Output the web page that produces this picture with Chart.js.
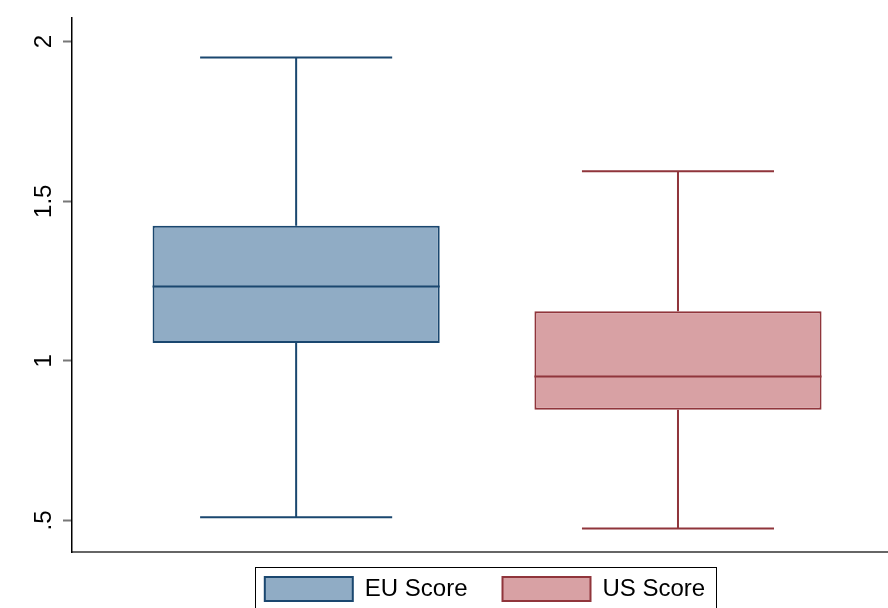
<!DOCTYPE html>
<html lang="en">
<head>
  <meta charset="UTF-8"/>
  <title>EU vs US score box plot</title>
  <script src="https://cdn.jsdelivr.net/npm/chart.js@4/dist/chart.umd.min.js"></script>
  <style>
    *{box-sizing:border-box;margin:0;padding:0}
    body{background:#fff;width:888px;height:608px;overflow:hidden}
    .wrap{position:relative;width:888px;height:608px}
  </style>
</head>
<body>
<div class="wrap"><canvas id="box"></canvas></div>

<script>
// data
const GROUPS = ['EU Score', 'US Score'];
const X_POS  = [1, 2];
const LOWER  = [0.510, 0.475];
const Q1     = [1.056, 0.847];
const MEDIAN = [1.233, 0.951];
const Q3     = [1.423, 1.155];
const UPPER  = [1.950, 1.594];

const Y_TICKS       = [0.5, 1, 1.5, 2];
const Y_TICK_LABELS = ['.5', '1', '1.5', '2'];

// look
const FILLS   = ['#90acc5', '#d8a1a4'];
const BORDERS = ['#1a476f', '#90353b'];
const BOX_W = 0.752, CAP_W = 0.503;   // in x units (gap between groups = 1)
const FONT = "'Liberation Sans', Arial, sans-serif";

const boxPlot = {
  id: 'boxPlot',
  afterLayout(chart) {
    const lg = chart.legend;
    lg.left = chart.chartArea.left + 10;
    lg.top  = chart.chartArea.bottom - 10;
  },
  beforeDatasetsDraw(chart) {
    const {ctx, scales: {x, y}} = chart;
    ctx.save();
    ctx.lineWidth = 2;
    X_POS.forEach((p, i) => {
      const px = x.getPixelForValue(p);
      const l = x.getPixelForValue(p - CAP_W / 2), r = x.getPixelForValue(p + CAP_W / 2);
      const yU = y.getPixelForValue(UPPER[i]), yL = y.getPixelForValue(LOWER[i]);
      ctx.strokeStyle = BORDERS[i];
      ctx.beginPath();
      ctx.moveTo(px, yU); ctx.lineTo(px, y.getPixelForValue(Q3[i]));
      ctx.moveTo(px, y.getPixelForValue(Q1[i])); ctx.lineTo(px, yL);
      ctx.moveTo(l, yU); ctx.lineTo(r, yU);
      ctx.moveTo(l, yL); ctx.lineTo(r, yL);
      ctx.stroke();
    });
    ctx.restore();
  },
  afterDatasetsDraw(chart) {
    const {ctx, scales: {x, y}} = chart;
    ctx.save();
    ctx.lineWidth = 2;
    X_POS.forEach((p, i) => {
      const ym = y.getPixelForValue(MEDIAN[i]);
      ctx.strokeStyle = BORDERS[i];
      ctx.beginPath();
      ctx.moveTo(x.getPixelForValue(p - BOX_W / 2), ym);
      ctx.lineTo(x.getPixelForValue(p + BOX_W / 2), ym);
      ctx.stroke();
    });
    ctx.restore();
  },
  afterDraw(chart) {
    // frame round the legend
    const hb = chart.legend.legendHitBoxes;
    if (!hb || !hb.length) return;
    const a = hb[0], b = hb[hb.length - 1];
    const {ctx} = chart;
    ctx.save();
    ctx.strokeStyle = '#000';
    ctx.lineWidth = 1;
    ctx.strokeRect(Math.round(a.left - 10) + 0.5, Math.round(a.top - 10) + 0.5,
                   Math.round(b.left + b.width - a.left + 21), a.height + 20);
    ctx.restore();
  }
};

new Chart(document.getElementById('box'), {
  type: 'bar',
  data: {
    datasets: [{
      label: 'score',
      data: X_POS.map((p, i) => ({x: p, y: [Q1[i], Q3[i]]})),
      backgroundColor: FILLS,
      borderColor: BORDERS,
      borderWidth: 2,
      borderSkipped: false,
      categoryPercentage: 1,
      barPercentage: BOX_W
    }]
  },
  options: {
    responsive: true,
    maintainAspectRatio: false,
    animation: false,
    layout: {padding: {top: 18, left: 0, right: 0, bottom: 0}},
    plugins: {
      tooltip: {enabled: false},
      legend: {
        position: 'bottom',
        maxHeight: 56,
        onClick: null,
        labels: {
          boxWidth: 88, boxHeight: 24, padding: 35,
          color: '#000', font: {size: 24, family: FONT},
          generateLabels: () => GROUPS.map((g, i) => ({
            text: g, fillStyle: FILLS[i], strokeStyle: BORDERS[i],
            lineWidth: 2, hidden: false, datasetIndex: 0, index: i
          }))
        }
      }
    },
    scales: {
      x: {
        type: 'linear', min: 0.413, max: 2.55, offset: false,
        afterBuildTicks: s => { s.ticks = X_POS.map(v => ({value: v})); },
        afterFit: s => { s.height = 0; },
        ticks: {display: false},
        grid: {display: false, offset: false},
        border: {color: '#666', width: 2}
      },
      y: {
        min: 0.401, max: 2.074,
        afterBuildTicks: s => { s.ticks = Y_TICKS.map(v => ({value: v})); },
        afterFit: s => { s.width = 72; },
        border: {color: '#000', width: 1.5},
        grid: {drawOnChartArea: false, tickLength: 9, tickColor: '#777', tickWidth: 2},
        ticks: {
          color: '#000', font: {size: 24, family: FONT},
          minRotation: 90, maxRotation: 90, crossAlign: 'center', padding: 2,
          callback: (v, i) => Y_TICK_LABELS[i]
        }
      }
    }
  },
  plugins: [boxPlot]
});
</script>
</body>
</html>
